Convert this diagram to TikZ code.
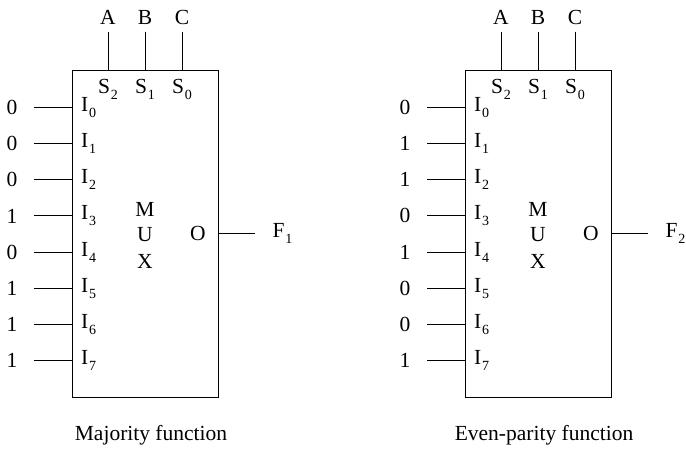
\documentclass[tikz,border=0pt]{standalone}
\usepackage{fontspec}
\setmainfont{Liberation Serif}
\newcommand{\subs}[2]{#1\kern1pt\raisebox{-.6ex}{\fontsize{14}{14}\selectfont #2}}

\begin{document}
\begin{tikzpicture}
[x=1pt,y=-1pt,line width=1pt,%
  every node/.style={inner sep=2pt,font=\fontsize{21.5}{24}\selectfont},%
  muxbox/.style={draw,minimum width=146pt,minimum height=327pt,inner sep=0pt},%
  selwire/.style={shorten <=5pt},%
  inwire/.style={shorten <=14pt},%
  outwire/.style={shorten >=15pt}]
\useasboundingbox (0,0) rectangle (686,450);
\foreach \k/\dx/\vals/\capt in {1/0/{0,0,0,1,0,1,1,1}/Majority function,%
  2/393/{0,1,1,0,1,0,0,1}/Even-parity function}
{
\begin{scope}[xshift=\dx]
  \node[muxbox] (mux\k) at (145,233.5) {};
  % select lines
  \foreach \s/\x/\n in {A/108/2,B/145/1,C/182/0}
  {
    \node (\s\k) at (\x,17) {\s};
    \node (sel\k-\n) at (\x,89) {\subs{S}{\n}};
    \draw[selwire] (\s\k) -- (\s\k |- mux\k.north);
  }
  % data inputs
  \foreach \v [count=\i from 0] in \vals
  {
    \node (v\k-\i) at (12,{107.5+36.15*\i}) {\v};
    \node[anchor=west] (in\k-\i) at ([xshift=7pt]v\k-\i -| mux\k.west) {\subs{I}{\i}};
    \draw[inwire] (v\k-\i) -- (v\k-\i -| mux\k.west);
  }
  \node (m\k) at (145,209) {M};
  \node (u\k) at (145,235) {U};
  \node (x\k) at (145,261) {X};
  % output
  \node (o\k) at (198,233.5) {O};
  \node[anchor=west] (f\k) at (270,233.5) {\subs{F}{\k}};
  \draw[outwire] (o\k -| mux\k.east) -- (f\k.west);
  \node (cap\k) at (151,435) {\capt};
\end{scope}
}
\end{tikzpicture}
\end{document}
